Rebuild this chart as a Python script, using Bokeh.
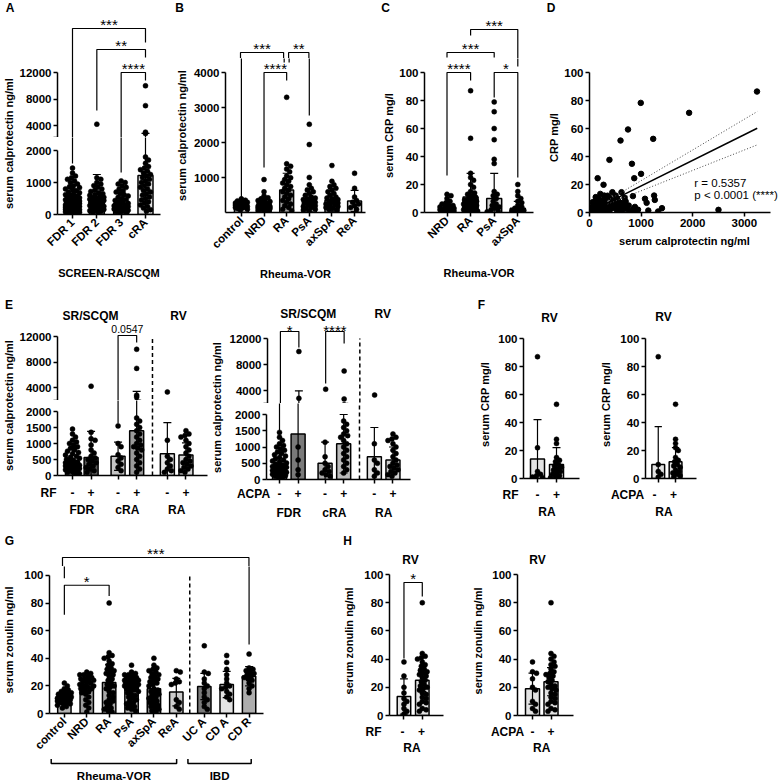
import math
from bokeh.plotting import figure
from bokeh.models import Range1d, LinearAxis, FixedTicker, Label
from bokeh.layouts import row, column
from bokeh.embed import file_html
from bokeh.resources import INLINE

# ====================== DATA ======================
# Panel A  (SCREEN-RA/SCQM, serum calprotectin ng/ml)
A_cats = ["FDR 1", "FDR 2", "FDR 3", "cRA"]
A_mean = [420, 520, 340, 1220]
A_sd = [380, 730, 360, 1580]
A_fdr1 = [1450, 1300, 1200, 1150, 1100, 1050, 1000, 950, 900, 870, 840, 800, 770, 740, 700, 680, 650, 620,
          600, 580, 560, 540, 520, 500, 480, 460, 450, 430, 420, 400, 380, 370, 350, 340, 320, 310, 300, 290,
          280, 270, 260, 250, 240, 230, 220, 210, 200, 190, 180, 170, 160, 150, 140, 130, 120, 110, 100, 90,
          80, 70, 60, 50, 40]
A_fdr2 = [4200, 1150, 1100, 1000, 950, 900, 850, 800, 760, 720, 680, 650, 620, 600, 570, 540, 520, 500, 480,
          460, 440, 420, 400, 380, 360, 340, 320, 300, 280, 260, 240, 220, 200, 180, 160, 140, 120, 100, 80, 60]
A_fdr3 = [1050, 1000, 950, 900, 850, 800, 750, 700, 660, 620, 580, 540, 500, 470, 440, 410, 380, 350, 330,
          310, 290, 270, 250, 230, 210, 190, 170, 150, 130, 110, 90, 70, 50]
A_cra = [10000, 7000, 3000, 2800, 1800, 1700, 1600, 1500, 1450, 1400, 1350, 1300, 1250, 1200, 1150, 1100,
         1050, 1000, 950, 900, 850, 800, 750, 700, 650, 600, 550, 500, 450, 400, 350, 300, 250, 200, 150, 100]

# Panel B  (Rheuma-VOR, serum calprotectin ng/ml)
B_cats = ["control", "NRD", "RA", "PsA", "axSpA", "ReA"]
B_mean = [240, 230, 650, 360, 360, 340]
B_sd = [100, 220, 480, 340, 330, 300]
B_control = [400, 360, 340, 320, 300, 290, 280, 270, 260, 250, 240, 230, 220, 210, 200, 190, 180, 170, 160,
             150, 140, 120, 100, 80]
B_nrd = [950, 600, 480, 430, 400, 380, 350, 320, 300, 280, 260, 250, 240, 220, 200, 190, 180, 170, 160, 150,
         140, 130, 120, 110, 100, 90, 80, 60, 40]
B_ra = [3300, 1400, 1330, 1250, 1170, 1050, 1000, 950, 900, 850, 800, 750, 700, 650, 600, 550, 500, 450, 400,
        350, 300, 250, 200, 150, 100, 60]
B_psa = [2530, 1950, 1010, 800, 700, 650, 600, 550, 500, 450, 420, 400, 380, 350, 320, 300, 280, 250, 220,
         200, 180, 150, 120, 100, 80, 50]
B_axspa = [1350, 900, 800, 750, 700, 650, 600, 550, 500, 450, 420, 400, 380, 350, 320, 300, 280, 250, 220,
           200, 180, 150, 120, 100, 80]
B_rea = [1130, 700, 450, 350, 300, 250, 200, 150, 100]

# Panel C  (Rheuma-VOR, serum CRP mg/l)
C_cats = ["NRD", "RA", "PsA", "axSpA"]
C_mean = [3, 11, 10, 3]
C_sd = [3, 17, 18, 5]
C_nrd = [13, 12, 10, 8, 7, 6, 5, 5, 4, 4, 3, 3, 3, 2, 2, 2, 1, 1, 1, 0.5, 0.5, 0.3]
C_ra = [87, 53, 28, 25, 23, 20, 18, 15, 14, 13, 12, 11, 10, 9, 9, 8, 8, 7, 7, 6, 6, 5, 5, 4, 4, 3, 3, 2, 2,
        2, 1, 1, 1, 0.5, 0.5, 0.5]
C_psa = [79, 72, 60, 52, 38, 35, 15, 13, 12, 10, 8, 6, 5, 4, 3, 2, 1, 0.5]
C_axspa = [20, 15, 12, 10, 8, 7, 5, 4, 3, 2, 1.5, 1, 0.5, 0.3]

# Panel D  (CRP vs calprotectin)
D_calprotectin = [3245, 1930, 993, 746, 601, 1234, 386, 822, 158, 999, 867, 272, 620, 841, 1075, 1107, 1252,
                  1265, 1404, 2499, 538, 209, 285, 380, 443, 506, 63, 126, 221, 348, 474, 664, 728, 854, 917,
                  1139, 1329, 32, 95, 285, 538, 791, 0, 158, 253, 411, 601, 316, 190, 380, 633, 32, 95, 462,
                  120, 450, 700, 560, 250, 150, 680, 330,
                  50, 80, 110, 140, 170, 200, 230, 260, 290, 320, 350, 380, 410, 440, 470, 500, 530, 560, 590,
                  620, 650, 700, 760, 820, 880, 940]
D_crp = [86.4, 71.2, 78.3, 59.3, 51.4, 52.6, 37.6, 34.8, 24.5, 27.6, 24.5, 19.8, 14.5, 11.7, 9.8, 6.9, 12.1,
         9.0, 3.1, 1.9, 9.8, 13.3, 12.1, 10.9, 14.5, 12.1, 7.4, 5.0, 2.6, 4.3, 6.2, 5.7, 2.6, 2.6, 1.9,
         1.4, 0.7, 1.4, 0.7, 0.7, 0.7, 0.7, 0.2, 8.6, 6.7, 2.6, 3.8, 9.8, 0.2, 0.7, 0.7, 3.8, 6.2, 3.8,
         11.0, 9.0, 8.0, 1.5, 4.0, 2.0, 10.5, 1.2,
         3.0, 5.0, 8.0, 4.0, 10.0, 6.0, 9.0, 3.0, 7.0, 5.0, 12.0, 2.0, 6.0, 4.0, 9.0, 3.0, 6.0, 8.0, 4.0,
         2.0, 7.0, 3.0, 5.0, 1.0, 4.0, 2.0]
D_fit_x = [0, 3250]
D_fit_y = [0.6, 60.2]
D_ci_hi_x = [350, 3250]
D_ci_hi_y = [8.5, 72.1]
D_ci_lo_x = [350, 3250]
D_ci_lo_y = [6.0, 48.3]
D_r_text = "r = 0.5357"
D_p_text = "p < 0.0001 (****)"

# Panel E left  (RF status, calprotectin)
E_sign = ["-", "+", "-", "+", "-", "+"]
E_groups = ["FDR", "cRA", "RA"]
E_rf_mean = [420, 560, 600, 1400, 680, 640]
E_rf_sd = [450, 820, 440, 2000, 970, 380]
E_rf_fdr_neg = [1450, 1300, 1200, 1100, 1050, 1000, 950, 900, 850, 800, 760, 720, 680, 640, 600, 570, 540,
                510, 480, 450, 420, 400, 380, 360, 340, 320, 300, 280, 260, 240, 220, 200, 180, 160, 140,
                120, 100, 80, 60]
E_rf_fdr_pos = [4200, 1350, 1150, 1100, 950, 800, 700, 600, 550, 500, 450, 400, 350, 300, 250, 200, 150, 100]
E_rf_cra_neg = [1550, 1000, 900, 650, 550, 450, 350, 250, 150]
E_rf_cra_pos = [10000, 7000, 2800, 2500, 1800, 1700, 1600, 1500, 1400, 1300, 1200, 1100, 1000, 950, 900,
                850, 800, 700, 600, 500, 400, 300, 200, 100]
E_rf_ra_neg = [3300, 1100, 600, 500, 400, 300, 200, 150, 100]
E_rf_ra_pos = [1400, 1300, 1250, 1200, 1100, 1000, 900, 800, 700, 600, 500, 450, 400, 350, 300, 250, 200,
               150, 100]

# Panel E right (ACPA status, calprotectin)
E_acpa_mean = [420, 1400, 500, 1100, 700, 600]
E_acpa_sd = [450, 2550, 650, 900, 900, 400]
E_acpa_fdr_neg = [1450, 1300, 1200, 1100, 1050, 1000, 950, 900, 850, 800, 760, 720, 680, 640, 600, 570,
                  540, 510, 480, 450, 420, 400, 380, 360, 340, 320, 300, 280, 260, 240, 220, 200, 180, 160,
                  140, 120, 100, 80, 60]
E_acpa_fdr_pos = [10000, 2800, 1000, 600, 300, 150]
E_acpa_cra_neg = [4200, 1150, 700, 500, 400, 300, 250, 200, 150, 100]
E_acpa_cra_pos = [7000, 2700, 1800, 1700, 1600, 1500, 1400, 1350, 1300, 1200, 1100, 1000, 900, 800, 700,
                  600, 500, 400, 300, 200]
E_acpa_ra_neg = [3300, 1100, 600, 500, 300, 200, 100]
E_acpa_ra_pos = [1400, 1300, 1250, 1200, 1100, 1000, 900, 800, 700, 600, 500, 450, 400, 350, 300, 250, 200,
                 150, 100]

# Panel F (RV, serum CRP mg/l)
F_sign = ["-", "+"]
F_rf_mean = [14, 10]
F_rf_sd = [28, 12]
F_rf_neg = [87, 22, 5, 3, 2, 1, 0.5]
F_rf_pos = [53, 28, 25, 15, 13, 12, 10, 9, 8, 7, 6, 5, 4, 3, 2, 1, 0.5]
F_acpa_mean = [10, 12]
F_acpa_sd = [27, 10]
F_acpa_neg = [87, 10, 5, 3, 1]
F_acpa_pos = [53, 28, 25, 22, 20, 15, 13, 12, 10, 9, 8, 6, 5, 4, 3, 2, 1]

# Panel G (serum zonulin ng/ml)
G_cats = ["control", "NRD", "RA", "PsA", "axSpA", "ReA", "UC A", "CD A", "CD R"]
G_mean = [12, 20, 22.5, 19.5, 18, 15.5, 19.5, 21, 27]
G_sd = [3.5, 5.5, 13, 5.5, 11.5, 10, 9.5, 9.5, 7]
G_control = [22, 20, 18, 17, 16, 15, 15, 14, 14, 13, 13, 12, 12, 12, 11, 11, 11, 10, 10, 10, 9, 9, 8, 8, 7,
             7, 6, 5, 4]
G_nrd = [30, 29, 28, 28, 27, 26, 25, 25, 24, 24, 23, 22, 22, 21, 20, 20, 19, 18, 18, 17, 16, 15, 14, 12, 10,
         8, 6, 4, 1]
G_ra = [80, 44, 42, 41, 40, 38, 36, 35, 33, 32, 31, 30, 29, 28, 27, 25, 24, 22, 21, 20, 19, 18, 16, 15, 13,
        12, 10, 9, 8, 7, 5, 4, 3, 2, 1]
G_psa = [35, 30, 29, 28, 28, 27, 26, 26, 25, 25, 24, 24, 23, 23, 22, 22, 21, 21, 20, 20, 19, 19, 18, 17, 17,
         16, 15, 14, 13, 12, 11, 10, 9, 8, 7, 6, 5, 4, 3, 2]
G_axspa = [40, 35, 33, 32, 31, 30, 29, 28, 27, 26, 25, 24, 23, 22, 21, 20, 18, 17, 16, 15, 14, 13, 12, 11,
           10, 9, 8, 7, 6, 5, 4, 3, 2, 1]
G_rea = [31, 30, 25, 23, 22, 21, 10, 8, 5, 3]
G_uca = [49, 30, 29, 25, 22, 20, 18, 15, 12, 10, 8, 5, 3]
G_cda = [42, 37, 32, 28, 25, 22, 20, 19, 18, 16, 14, 12, 10]
G_cdr = [43, 33, 32, 31, 30, 29, 28, 27, 26, 25, 24, 22, 20, 18, 15]
G_cohorts = ["Rheuma-VOR", "IBD"]

# Panel H (RV, serum zonulin ng/ml)
H_rf_mean = [13.5, 25]
H_rf_sd = [12.5, 8]
H_rf_neg = [38, 28, 20, 16, 12, 10, 8, 5, 3, 1]
H_rf_pos = [80, 44, 42, 41, 40, 38, 36, 35, 33, 32, 31, 30, 29, 28, 27, 25, 24, 22, 21, 20, 19, 18, 16, 15,
            13, 12, 10, 9, 8, 5, 4, 3]
H_acpa_mean = [19, 24]
H_acpa_sd = [11, 10]
H_acpa_neg = [38, 31, 30, 26, 20, 18, 10, 8, 5, 3]
H_acpa_pos = [80, 44, 42, 40, 38, 36, 35, 33, 31, 30, 29, 28, 27, 25, 24, 22, 21, 20, 19, 18, 16, 15, 13,
              12, 10, 9, 8, 5, 4, 3]

# ====================== STYLE ======================
FONT = "Liberation Sans"
A_fill = ["#6e6e6e", "#5a5a5a", "#808080", "#e3e3e3"]
B_fill = ["#d4d4d4", "#bdbdbd", "#a6a6a6", "#b5b5b5", "#9a9a9a", "#dedede"]
C_fill = ["#bdbdbd", "#a6a6a6", "#cfcfcf", "#9a9a9a"]
E_rf_fill = ["#5e5e5e", "#5a5a5a", "#c4c4c4", "#9a9a9a", "#e3e3e3", "#d0d0d0"]
E_acpa_fill = ["#5e5e5e", "#7a7a7a", "#b0b0b0", "#bcbcbc", "#e3e3e3", "#d0d0d0"]
F_fill = ["#e3e3e3", "#e3e3e3"]
G_fill = ["#b4b4b4", "#9c9c9c", "#a8a8a8", "#b8b8b8", "#8a8a8a", "#cccccc", "#7a7a7a", "#e3e3e3", "#adadad"]
H_fill = ["#e3e3e3", "#e3e3e3"]
ROT = math.pi / 4
YROT = math.pi / 2


class Pnl:
    """Figure with canvas `block` and frame `frame` (page pixels).
    data x = (px - ox) / ux, data y = (oy - py) / uy."""

    def __init__(self, block, frame=None, ox=0.0, ux=1.0, oy=0.0, uy=-1.0):
        frame = frame or block
        self.ox, self.ux, self.oy, self.uy = ox, ux, oy, uy
        bx0, by0, bx1, by1 = block
        fx0, fy0, fx1, fy1 = frame
        self.frame = frame
        p = figure(width=bx1 - bx0, height=by1 - by0,
                   x_range=Range1d(self.xd(fx0), self.xd(fx1)),
                   y_range=Range1d(self.yd(fy1), self.yd(fy0)),
                   min_border_left=fx0 - bx0, min_border_right=bx1 - fx1,
                   min_border_top=fy0 - by0, min_border_bottom=by1 - fy1,
                   x_axis_type=None, y_axis_type=None,
                   output_backend="svg", toolbar_location=None, tools="")
        try:
            p.frame_align = False
        except Exception:
            pass
        p.outline_line_color = None
        p.background_fill_color = "white"
        p.border_fill_color = "white"
        self.p = p

    def xd(self, px):
        return (px - self.ox) / self.ux

    def yd(self, py):
        return (self.oy - py) / self.uy

    def label(self, px, py, text, size="11.5px", style="bold", align="center", angle=0.0):
        self.p.add_layout(Label(x=self.xd(px), y=self.yd(py), text=text, text_font=FONT,
                                text_font_size=size, text_font_style=style, text_align=align,
                                text_baseline="middle", angle=angle, text_color="black"))


def W(P):
    return row(P.p)


def style_axis(ax, size="11.5px"):
    ax.axis_line_width = 1.5
    ax.axis_line_color = "black"
    ax.major_tick_line_width = 1.5
    ax.major_tick_line_color = "black"
    ax.major_tick_out = 4
    ax.major_tick_in = 0
    ax.minor_tick_line_color = None
    ax.major_label_text_font = FONT
    ax.major_label_text_font_style = "bold"
    ax.major_label_text_font_size = size
    ax.major_label_text_color = "black"
    ax.major_label_standoff = 2
    ax.axis_label_text_font = FONT
    ax.axis_label_text_font_style = "bold"
    ax.axis_label_text_font_size = "11px"
    ax.axis_label_text_color = "black"


def add_yaxis(P, ticks, bounds, overrides=None, label=None, standoff=3):
    ax = LinearAxis(ticker=FixedTicker(ticks=ticks), bounds=bounds)
    style_axis(ax)
    if overrides:
        ax.major_label_overrides = overrides
    if label:
        ax.axis_label = label
        ax.axis_label_standoff = standoff
    P.p.add_layout(ax, "left")


def add_xaxis(P, ticks, labels=None, angle=0.0, label=None, label_standoff=5, bounds="auto"):
    ax = LinearAxis(ticker=FixedTicker(ticks=ticks), bounds=bounds)
    style_axis(ax)
    if labels is None:
        ax.major_label_overrides = {t: "" for t in ticks}
        ax.major_label_text_font_size = "0px"
        ax.major_label_standoff = 0
    else:
        ax.major_label_overrides = {t: l for t, l in zip(ticks, labels)}
    if angle:
        ax.major_label_orientation = angle
    if label:
        ax.axis_label = label
        ax.axis_label_standoff = label_standoff
    P.p.add_layout(ax, "below")


def swarm(vals, uy, ux, half_px, dmin=4.0, step=1.0):
    n = len(vals)
    order = sorted(range(n), key=lambda i: -vals[i])
    cands = [0.0]
    k = 1
    while k * step <= half_px + 1e-9:
        cands.append(k * step)
        cands.append(-k * step)
        k += 1
    placed = []
    offs = [0.0] * n
    for i in order:
        y = vals[i] * uy
        near = [(a, b) for a, b in placed if abs(b - y) < dmin]
        best, bestd = 0.0, -1.0
        for c in cands:
            md = min((math.hypot(c - a, y - b) for a, b in near), default=1e9)
            if md >= dmin:
                best = c
                break
            if md > bestd:
                best, bestd = c, md
        placed.append((best, y))
        offs[i] = best / ux
    return offs


def draw_bars(P, slots, means, sds, groups, fills, bw_px, cap_px, half_px, uy_dots, bars=True):
    p = P.p
    bw = bw_px / P.ux
    cw = cap_px / P.ux
    if bars:
        p.vbar(x=slots, bottom=0, top=means, width=bw, fill_color=fills, line_color="black", line_width=1.5)
    for s, vals in zip(slots, groups):
        offs = swarm(vals, uy_dots, P.ux, half_px)
        p.scatter(x=[s + o for o in offs], y=vals, size=5, marker="circle",
                  fill_color="black", line_color="black", line_width=0.5)
    lo = [max(0.0, m - sd) for m, sd in zip(means, sds)]
    hi = [m + sd for m, sd in zip(means, sds)]
    p.segment(x0=slots, x1=slots, y0=lo, y1=hi, line_color="black", line_width=1.2)
    p.segment(x0=[s - cw for s in slots], x1=[s + cw for s in slots], y0=hi, y1=hi,
              line_color="black", line_width=1.2)
    lows = [(s, l) for s, l, m, sd in zip(slots, lo, means, sds) if m - sd > 0]
    if lows and bars:
        p.segment(x0=[s - cw for s, _ in lows], x1=[s + cw for s, _ in lows], y0=[l for _, l in lows],
                  y1=[l for _, l in lows], line_color="black", line_width=1.2)


def bracket(figs, x0, x1, top, yl, yr, text, size="15px", lift=4):
    """Significance bracket given in page pixels, drawn through each figure's own scales."""
    for f in figs:
        f.p.multi_line(xs=[[f.xd(x0), f.xd(x0), f.xd(x1), f.xd(x1)]],
                       ys=[[f.yd(yl), f.yd(top), f.yd(top), f.yd(yr)]],
                       line_color="black", line_width=1.2)
    ty = top - lift
    for f in figs:
        if f.frame[1] <= ty <= f.frame[3]:
            f.label((x0 + x1) / 2.0, ty, text, size=size, style="normal")
            break


def dashed(P, x, ytop):
    P.p.segment(x0=[x], x1=[x], y0=[0], y1=[ytop], line_color="black", line_width=1.5, line_dash="4 3")


def px_of(ox, ux, slots):
    return [ox + s * ux for s in slots]


# ====================== ROW 1 ======================
# --- A (broken axis)
A_slots = [0, 1, 2, 3]
A_ox, A_ux = 72, 24.33
A_up_uy = 0.006625
A_up_oy = 72 + 12000 * A_up_uy
A_lo_oy, A_lo_uy = 214, 0.032
A_brk = 137
A_lab = Pnl((0, 0, 16, 285))
A_up = Pnl((16, 0, 172, A_brk), (57, 12, 160, A_brk), A_ox, A_ux, A_up_oy, A_up_uy)
A_lo = Pnl((16, A_brk, 172, 285), (57, A_brk, 160, 214), A_ox, A_ux, A_lo_oy, A_lo_uy)
A_pts = [A_fdr1, A_fdr2, A_fdr3, A_cra]
draw_bars(A_up, A_slots, A_mean, A_sd, A_pts, A_fill, 15, 4, 7, A_lo_uy, bars=False)
draw_bars(A_lo, A_slots, A_mean, A_sd, A_pts, A_fill, 15, 4, 7, A_lo_uy)
ax_ = px_of(A_ox, A_ux, A_slots)
bracket([A_up, A_lo], ax_[0], ax_[3], 28, 163, 42, "***")
bracket([A_up, A_lo], ax_[1], ax_[3], 49, 110, 57, "**")
bracket([A_up, A_lo], ax_[2], ax_[3], 72, 172, 80, "****")
add_yaxis(A_up, [2230, 4000, 8000, 12000], (A_up.yd(A_brk), 12000), {2230: ""})
add_yaxis(A_lo, [0, 1000, 2000], (0, 2000))
add_xaxis(A_lo, A_slots, A_cats, angle=ROT, label="SCREEN-RA/SCQM", label_standoff=12)
A_lab.label(9.5, 7, "A", size="12px")
A_lab.label(8, 143, "serum calprotectin ng/ml", size="11px", angle=YROT)

# --- B
B_slots = [0, 1, 2, 3, 4, 5]
B_top = Pnl((172, 0, 378, 58))
B = Pnl((172, 58, 378, 285), (224, 58, 365, 212), 240, 22.8, 212.3, 0.035)
draw_bars(B, B_slots, B_mean, B_sd, [B_control, B_nrd, B_ra, B_psa, B_axspa, B_rea], B_fill, 14, 4, 6, 0.035)
bx_ = px_of(240, 22.8, B_slots)
bracket([B_top, B], bx_[0], bx_[2] - 2.5, 52, 198, 62, "***")
bracket([B_top, B], bx_[2] + 2.5, bx_[3], 52, 62, 115, "**")
bracket([B_top, B], bx_[1], bx_[2], 72, 167, 80, "****")
add_yaxis(B, [0, 1000, 2000, 3000, 4000], (0, 4000), label="serum calprotectin ng/ml", standoff=3)
add_xaxis(B, B_slots, B_cats, angle=ROT, label="Rheuma-VOR", label_standoff=10)
B_top.label(179, 7, "B", size="12px")

# --- C
C_slots = [0, 1, 2, 3]
C_top = Pnl((378, 0, 545, 58))
C = Pnl((378, 58, 545, 285), (424, 58, 533, 212), 446.5, 23.6, 212, 1.4)
draw_bars(C, C_slots, C_mean, C_sd, [C_nrd, C_ra, C_psa, C_axspa], C_fill, 15, 4, 7, 1.4)
cx_ = px_of(446.5, 23.6, C_slots)
bracket([C_top, C], cx_[1], cx_[3], 29, 35, 66, "***")
bracket([C_top, C], cx_[0], cx_[2], 52, 57, 57, "***")
bracket([C_top, C], cx_[0], cx_[1], 72, 175, 80, "****")
bracket([C_top, C], cx_[2], cx_[3], 72, 97, 177, "*")
add_yaxis(C, [0, 20, 40, 60, 80, 100], (0, 100), label="serum CRP mg/l", standoff=1)
add_xaxis(C, C_slots, C_cats, angle=ROT, label="Rheuma-VOR", label_standoff=12)
C_top.label(385, 7, "C", size="12px")

# --- D
D_top = Pnl((545, 0, 779, 62))
D = Pnl((545, 62, 779, 285), (585, 62, 779, 212), 585, 0.0527, 212, 1.4)
D.p.scatter(x=D_calprotectin, y=D_crp, size=5.5, marker="circle", fill_color="black", line_color="black")
D.p.line(x=D_fit_x, y=D_fit_y, line_color="black", line_width=1.5)
D.p.line(x=D_ci_hi_x, y=D_ci_hi_y, line_color="#444444", line_width=1, line_dash="1 2")
D.p.line(x=D_ci_lo_x, y=D_ci_lo_y, line_color="#444444", line_width=1, line_dash="1 2")
add_yaxis(D, [0, 20, 40, 60, 80, 100], (0, 100), label="CRP mg/l", standoff=1)
add_xaxis(D, [0, 1000, 2000, 3000], [str(v) for v in [0, 1000, 2000, 3000]],
          label="serum calprotectin ng/ml", label_standoff=5, bounds=(0, 3500))
D_top.label(550.5, 7, "D", size="12px")
D.label(692, 182, D_r_text, size="11.5px", style="normal", align="left")
D.label(692, 194, D_p_text, size="11.5px", style="normal", align="left")

# ====================== ROW 2 ======================
E_slots = [0, 1, 2.45, 3.45, 5.1, 6.1]
E_gslots = [0.5, 2.95, 5.6]
E_dash = 4.3
# --- E left (RF)
El_up_uy = 0.006375
El_up_oy = 336 + 12000 * El_up_uy
El_lo_oy, El_lo_uy = 475, 0.032
E_lab = Pnl((0, 285, 16, 480))
El_up = Pnl((16, 285, 208, 400), (57, 300, 207, 400), 72, 18.6, El_up_oy, El_up_uy)
El_lo = Pnl((16, 400, 208, 480), (57, 400, 207, 475), 72, 18.6, El_lo_oy, El_lo_uy)
E_bot = Pnl((0, 480, 208, 520))
El_pts = [E_rf_fdr_neg, E_rf_fdr_pos, E_rf_cra_neg, E_rf_cra_pos, E_rf_ra_neg, E_rf_ra_pos]
draw_bars(El_up, E_slots, E_rf_mean, E_rf_sd, El_pts, E_rf_fill, 14, 4, 7, El_lo_uy, bars=False)
draw_bars(El_lo, E_slots, E_rf_mean, E_rf_sd, El_pts, E_rf_fill, 14, 4, 7, El_lo_uy)
for P in (El_up, El_lo):
    dashed(P, E_dash, 12000)
ex_ = px_of(72, 18.6, E_slots)
bracket([El_up, El_lo], ex_[2], ex_[3], 335, 423, 342, "0.0547", size="10.5px", lift=7)
add_yaxis(El_up, [2030, 4000, 8000, 12000], (El_up.yd(400), 12000), {2030: ""})
add_yaxis(El_lo, [0, 500, 1000, 1500, 2000], (0, 2000))
add_xaxis(El_lo, E_slots)
E_lab.label(8.5, 304, "E", size="12px")
E_lab.label(8, 405, "serum calprotectin ng/ml", size="11px", angle=YROT)
El_up.label(90, 315, "SR/SCQM", size="12px")
El_up.label(178, 315, "RV", size="12px")
E_bot.label(48, 492, "RF", size="12px")
for x, s in zip(ex_, E_sign):
    E_bot.label(x, 492, s, size="12px")
for x, g in zip(px_of(72, 18.6, E_gslots), E_groups):
    E_bot.label(x, 509, g, size="12px")

# --- E right (ACPA)
Er_up_uy = 0.0065
Er_up_oy = 338 + 12000 * Er_up_uy
Er_lo_oy, Er_lo_uy = 479, 0.0325
Er_lab = Pnl((208, 285, 226, 484))
Er_up = Pnl((226, 285, 420, 403), (266, 300, 410, 403), 279, 18.6, Er_up_oy, Er_up_uy)
Er_lo = Pnl((226, 403, 420, 484), (266, 403, 410, 479), 279, 18.6, Er_lo_oy, Er_lo_uy)
Er_bot = Pnl((208, 484, 420, 520))
Er_pts = [E_acpa_fdr_neg, E_acpa_fdr_pos, E_acpa_cra_neg, E_acpa_cra_pos, E_acpa_ra_neg, E_acpa_ra_pos]
draw_bars(Er_up, E_slots, E_acpa_mean, E_acpa_sd, Er_pts, E_acpa_fill, 14, 4, 7, Er_lo_uy, bars=False)
draw_bars(Er_lo, E_slots, E_acpa_mean, E_acpa_sd, Er_pts, E_acpa_fill, 14, 4, 7, Er_lo_uy)
for P in (Er_up, Er_lo):
    dashed(P, E_dash, 12000)
erx_ = px_of(279, 18.6, E_slots)
bracket([Er_up, Er_lo], erx_[0], erx_[1], 331, 430, 347, "*", lift=1.5)
bracket([Er_up, Er_lo], erx_[2], erx_[3], 331, 383, 343, "****", lift=1.5)
add_yaxis(Er_up, [2030, 4000, 8000, 12000], (Er_up.yd(403), 12000), {2030: ""})
add_yaxis(Er_lo, [0, 500, 1000, 1500, 2000], (0, 2000))
add_xaxis(Er_lo, E_slots)
Er_lab.label(216, 407, "serum calprotectin ng/ml", size="11px", angle=YROT)
Er_up.label(307, 313, "SR/SCQM", size="12px")
Er_up.label(382, 313, "RV", size="12px")
Er_bot.label(253, 493, "ACPA", size="12px")
for x, s in zip(erx_, E_sign):
    Er_bot.label(x, 493, s, size="12px")
for x, g in zip(px_of(279, 18.6, E_gslots), E_groups):
    Er_bot.label(x, 512, g, size="12px")

# --- F
F_slots = [0, 1]
Fl_top = Pnl((420, 285, 597, 330))
Fl = Pnl((420, 330, 597, 483), (523, 330, 579, 478), 537, 19, 478, 1.4)
Fl_bot = Pnl((420, 483, 597, 520))
Fr_top = Pnl((597, 285, 779, 330))
Fr = Pnl((597, 330, 779, 483), (640, 330, 696, 478), 654, 19, 478, 1.4)
Fr_bot = Pnl((597, 483, 779, 520))
draw_bars(Fl, F_slots, F_rf_mean, F_rf_sd, [F_rf_neg, F_rf_pos], F_fill, 14, 4, 6, 1.4)
draw_bars(Fr, F_slots, F_acpa_mean, F_acpa_sd, [F_acpa_neg, F_acpa_pos], F_fill, 14, 4, 6, 1.4)
add_yaxis(Fl, [0, 20, 40, 60, 80, 100], (0, 100), label="serum CRP mg/l", standoff=4)
add_yaxis(Fr, [0, 20, 40, 60, 80, 100], (0, 100), label="serum CRP mg/l", standoff=5)
add_xaxis(Fl, F_slots)
add_xaxis(Fr, F_slots)
Fl_top.label(481, 304, "F", size="12px")
Fl_top.label(549, 317, "RV", size="12px")
Fr_top.label(663, 316, "RV", size="12px")
Fl_bot.label(510, 494, "RF", size="12px")
Fr_bot.label(627, 494, "ACPA", size="12px")
for x, s in zip(px_of(537, 19, F_slots), F_sign):
    Fl_bot.label(x, 494, s, size="12px")
for x, s in zip(px_of(654, 19, F_slots), F_sign):
    Fr_bot.label(x, 494, s, size="12px")
Fl_bot.label(537 + 0.5 * 19, 511, "RA", size="12px")
Fr_bot.label(654 + 0.5 * 19, 511, "RA", size="12px")

# ====================== ROW 3 ======================
G_slots = [0, 1, 2, 3, 4, 5, 6.25, 7.25, 8.25]
G_ox, G_ux = 62, 22.6
G_top = Pnl((0, 520, 340, 566))
G = Pnl((0, 566, 340, 758), (47, 566, 263, 715), G_ox, G_ux, 715, 1.4)
G_grp = Pnl((0, 758, 340, 781))
draw_bars(G, G_slots, G_mean, G_sd, [G_control, G_nrd, G_ra, G_psa, G_axspa, G_rea, G_uca, G_cda, G_cdr],
          G_fill, 13.5, 4, 7, 1.4)
dashed(G, 5.6, 100)
gx_ = px_of(G_ox, G_ux, G_slots)
bracket([G_top, G], gx_[0], gx_[8], 557, 578, 645, "***")
bracket([G_top, G], gx_[0], gx_[2], 585, 615, 596, "*")
add_yaxis(G, [0, 20, 40, 60, 80, 100], (0, 100), label="serum zonulin ng/ml", standoff=6)
add_xaxis(G, G_slots, G_cats, angle=ROT)
G_top.label(9, 540, "G", size="12px")
for (s0, s1), name in zip([(-0.5, 5.05), (5.55, 8.35)], G_cohorts):
    x0, x1 = px_of(G_ox, G_ux, [s0, s1])
    G_grp.p.multi_line(xs=[[x0, x0, x1, x1]], ys=[[758.5, 763, 763, 758.5]], line_color="black", line_width=1.5)
    G_grp.label((x0 + x1) / 2.0, 775, name, size="11.5px")

H_slots = [0, 1]
Hl_top = Pnl((340, 520, 460, 566))
Hl = Pnl((340, 566, 460, 720), (387, 566, 443, 715), 402, 19, 715, 1.41)
Hl_bot = Pnl((340, 720, 460, 781))
Hr_top = Pnl((460, 520, 779, 566))
Hr = Pnl((460, 566, 779, 720), (517, 566, 573, 715), 532, 18.5, 715, 1.41)
Hr_bot = Pnl((460, 720, 779, 781))
draw_bars(Hl, H_slots, H_rf_mean, H_rf_sd, [H_rf_neg, H_rf_pos], H_fill, 14, 4, 6, 1.41)
draw_bars(Hr, H_slots, H_acpa_mean, H_acpa_sd, [H_acpa_neg, H_acpa_pos], H_fill, 14, 4, 6, 1.41)
hx_ = px_of(402, 19, H_slots)
bracket([Hl_top, Hl], hx_[0], hx_[1], 582, 658, 596, "*")
add_yaxis(Hl, [0, 20, 40, 60, 80, 100], (0, 100), label="serum zonulin ng/ml", standoff=6)
add_yaxis(Hr, [0, 20, 40, 60, 80, 100], (0, 100), label="serum zonulin ng/ml", standoff=5)
add_xaxis(Hl, H_slots)
add_xaxis(Hr, H_slots)
Hl_top.label(347, 540, "H", size="12px")
Hl_top.label(410, 559, "RV", size="12px")
Hr_top.label(537, 559, "RV", size="12px")
Hl_bot.label(373, 731, "RF", size="12px")
Hr_bot.label(507, 731, "ACPA", size="12px")
for x, s in zip(hx_, F_sign):
    Hl_bot.label(x, 731, s, size="12px")
for x, s in zip(px_of(532, 18.5, H_slots), F_sign):
    Hr_bot.label(x, 731, s, size="12px")
Hl_bot.label(402 + 0.5 * 19, 747, "RA", size="12px")
Hr_bot.label(532 + 0.5 * 18.5, 747, "RA", size="12px")

# ====================== LAYOUT ======================
row1 = row(column(W(A_lab)), column(W(A_up), W(A_lo)), column(W(B_top), W(B)), column(W(C_top), W(C)),
           column(W(D_top), W(D)))
row2 = row(column(row(column(W(E_lab)), column(W(El_up), W(El_lo))), W(E_bot)),
           column(row(column(W(Er_lab)), column(W(Er_up), W(Er_lo))), W(Er_bot)),
           column(W(Fl_top), W(Fl), W(Fl_bot)), column(W(Fr_top), W(Fr), W(Fr_bot)))
row3 = row(column(W(G_top), W(G), W(G_grp)), column(W(Hl_top), W(Hl), W(Hl_bot)),
           column(W(Hr_top), W(Hr), W(Hr_bot)))
layout = column(row1, row2, row3)

open("out.html", "w").write(file_html(layout, INLINE, "Calprotectin, CRP and zonulin"))
